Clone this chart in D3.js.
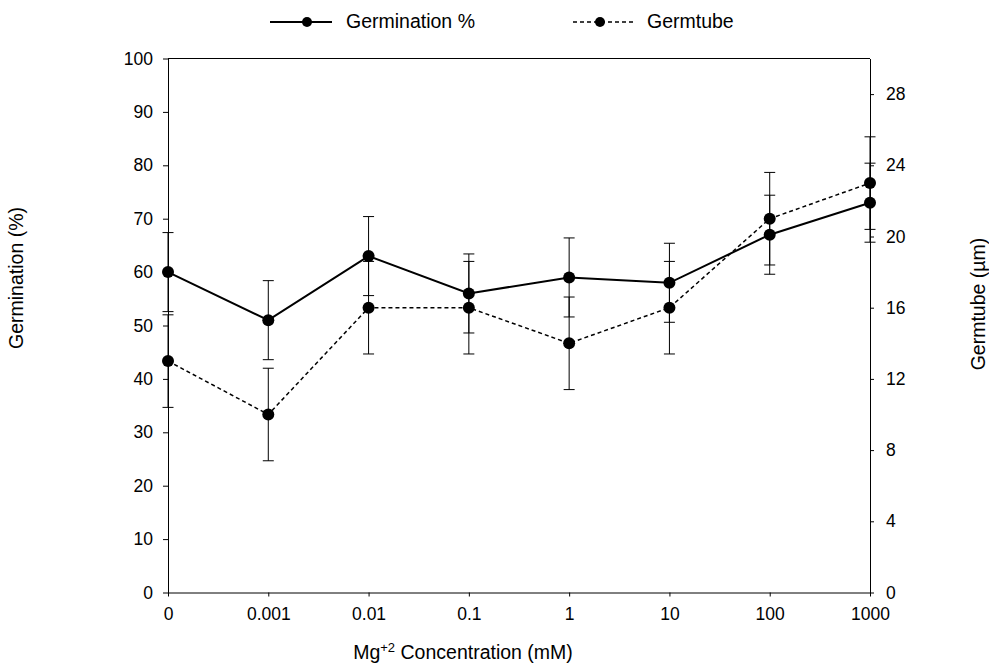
<!DOCTYPE html>
<html>
<head>
<meta charset="utf-8">
<script src="https://cdn.jsdelivr.net/npm/d3@7"></script>
<style>
  body { margin: 0; background: #fff; }
  text { font-family: "Liberation Sans", Arial, sans-serif; }
</style>
</head>
<body>
<svg id="plotSvg"></svg>
<script>
// data
var concentrations = ["0", "0.001", "0.01", "0.1", "1", "10", "100", "1000"];
var germination = [60, 51, 63, 56, 59, 58, 67, 73];
var germinationErr = [7.4, 7.4, 7.4, 7.4, 7.4, 7.4, 7.4, 7.4];
var germtube = [13, 10, 16, 16, 14, 16, 21, 23];
var germtubeErr = [2.6, 2.6, 2.6, 2.6, 2.6, 2.6, 2.6, 2.6];
var leftTicks = [0, 10, 20, 30, 40, 50, 60, 70, 80, 90, 100];
var rightTicks = [0, 4, 8, 12, 16, 20, 24, 28];

var width = 989, height = 664;
var svg = d3.select("#plotSvg").attr("width", width).attr("height", height);

var plot = { left: 168, right: 870, top: 58.5, bottom: 592.5 };

var x = d3.scalePoint().domain(concentrations).range([plot.left, plot.right]).padding(0);
var yL = d3.scaleLinear().domain([0, 100]).range([plot.bottom, plot.top]);
var yR = d3.scaleLinear().domain([0, 30]).range([plot.bottom, plot.top]);

// top border
svg.append("line")
  .attr("x1", plot.left).attr("x2", plot.right)
  .attr("y1", plot.top).attr("y2", plot.top)
  .attr("stroke", "#000").attr("stroke-width", 1);

function styleAxis(g) {
  g.selectAll("path, line").attr("stroke", "#000").attr("stroke-width", 1);
  g.selectAll("text").attr("fill", "#000")
    .style("font-size", "17.5px").style("font-family", "Liberation Sans, Arial, sans-serif");
}

svg.append("g")
  .attr("transform", "translate(" + plot.left + ",0)")
  .call(d3.axisLeft(yL).tickValues(leftTicks).tickSize(5).tickSizeOuter(0).tickPadding(10))
  .call(styleAxis);

svg.append("g")
  .attr("transform", "translate(" + plot.right + ",0)")
  .call(d3.axisRight(yR).tickValues(rightTicks).tickSize(4).tickSizeOuter(0).tickPadding(12))
  .call(styleAxis);

svg.append("g")
  .attr("transform", "translate(0," + plot.bottom + ")")
  .call(d3.axisBottom(x).tickSize(4).tickSizeOuter(0).tickPadding(11))
  .call(styleAxis);

// axis titles
svg.append("text")
  .attr("transform", "translate(23,278) rotate(-90)")
  .attr("text-anchor", "middle")
  .style("font-size", "19.5px")
  .text("Germination (%)");

svg.append("text")
  .attr("transform", "translate(985,304) rotate(-90)")
  .attr("text-anchor", "middle")
  .style("font-size", "19.5px")
  .text("Germtube (µm)");

var xt = svg.append("text")
  .attr("x", 463).attr("y", 659)
  .attr("text-anchor", "middle")
  .style("font-size", "19.5px");
xt.append("tspan").text("Mg");
xt.append("tspan").attr("dy", -7).style("font-size", "13px").text("+2");
xt.append("tspan").attr("dy", 7).text(" Concentration (mM)");

// error bars
function errorBars(vals, errs, scale) {
  var g = svg.append("g").attr("stroke", "#000").attr("stroke-width", 1);
  concentrations.forEach(function(c, i) {
    var cx = x(c), hi = scale(vals[i] + errs[i]), lo = scale(vals[i] - errs[i]);
    g.append("line").attr("x1", cx).attr("x2", cx).attr("y1", hi).attr("y2", lo);
    g.append("line").attr("x1", cx - 5.5).attr("x2", cx + 5.5).attr("y1", hi).attr("y2", hi);
    g.append("line").attr("x1", cx - 5.5).attr("x2", cx + 5.5).attr("y1", lo).attr("y2", lo);
  });
}
errorBars(germination, germinationErr, yL);
errorBars(germtube, germtubeErr, yR);

var lineL = d3.line().x(function(d, i) { return x(concentrations[i]); }).y(function(d) { return yL(d); });
var lineR = d3.line().x(function(d, i) { return x(concentrations[i]); }).y(function(d) { return yR(d); });

svg.append("path").datum(germtube).attr("d", lineR)
  .attr("fill", "none").attr("stroke", "#000").attr("stroke-width", 1.5)
  .attr("stroke-dasharray", "4,3");
svg.append("path").datum(germination).attr("d", lineL)
  .attr("fill", "none").attr("stroke", "#000").attr("stroke-width", 2);

svg.append("g").selectAll("circle").data(germtube).enter().append("circle")
  .attr("cx", function(d, i) { return x(concentrations[i]); })
  .attr("cy", function(d) { return yR(d); })
  .attr("r", 6).attr("fill", "#000");
svg.append("g").selectAll("circle").data(germination).enter().append("circle")
  .attr("cx", function(d, i) { return x(concentrations[i]); })
  .attr("cy", function(d) { return yL(d); })
  .attr("r", 6).attr("fill", "#000");

// legend
var legendItems = [
  { label: "Germination %", x: 270, len: 62, dot: 37, dash: null, sw: 2 },
  { label: "Germtube", x: 573, len: 60, dot: 27, dash: "4,3", sw: 1.5 }
];
var legend = svg.append("g").selectAll("g").data(legendItems).enter().append("g")
  .attr("transform", function(d) { return "translate(" + d.x + ",22)"; });
legend.append("line")
  .attr("x1", 0).attr("x2", function(d) { return d.len; }).attr("y1", 0).attr("y2", 0)
  .attr("stroke", "#000")
  .attr("stroke-width", function(d) { return d.sw; })
  .attr("stroke-dasharray", function(d) { return d.dash; });
legend.append("circle").attr("cx", function(d) { return d.dot; }).attr("cy", 0).attr("r", 5).attr("fill", "#000");
legend.append("text")
  .attr("x", function(d) { return d.len + 14; }).attr("y", 5.5)
  .style("font-size", "19.5px")
  .text(function(d) { return d.label; });
</script>
</body>
</html>
